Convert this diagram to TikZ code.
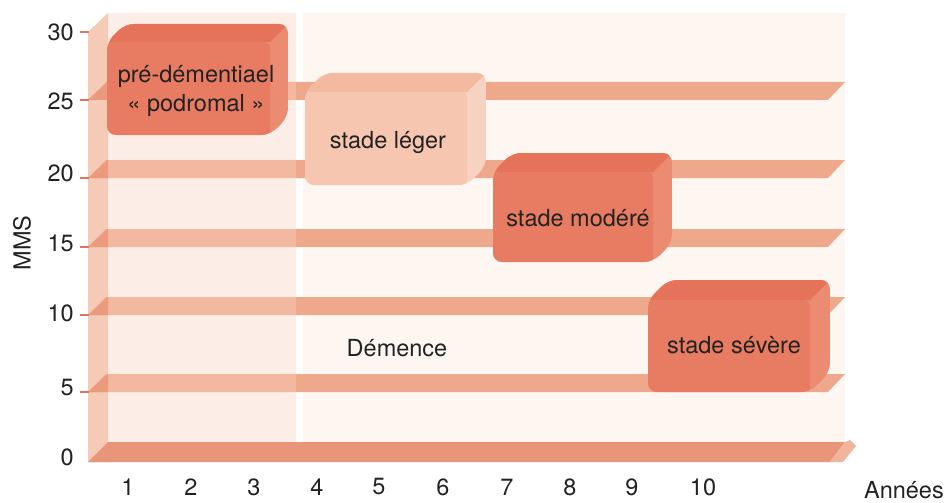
\documentclass[tikz,border=0pt]{standalone}
\usepackage{fontspec}
\setmainfont{TeX Gyre Heros}
\usepackage{tikz}

\definecolor{fondG}{HTML}{FCEEE7}
\definecolor{fondD}{HTML}{FDF6F1}
\definecolor{mur}{HTML}{F5CAB7}
\definecolor{barre}{HTML}{EEA88C}
\definecolor{barreG}{HTML}{F2B8A0}
\definecolor{biseau}{HTML}{EB9A7E}
\definecolor{sol}{HTML}{E9957A}
\definecolor{solBout}{HTML}{F2B49C}
\definecolor{trait}{HTML}{E2735E}
\definecolor{texte}{HTML}{222222}
\definecolor{fonceFace}{HTML}{E87C62}
\definecolor{fonceDessus}{HTML}{E5735A}
\definecolor{fonceCote}{HTML}{EB8B72}
\definecolor{clairFace}{HTML}{F6C6B0}
\definecolor{clairDessus}{HTML}{F3BAA0}
\definecolor{clairCote}{HTML}{F8D2C1}

\begin{document}
\begin{tikzpicture}[x=1pt,y=-1pt,font=\fontsize{23.5}{29}\selectfont,text=texte]
\useasboundingbox (0,0) rectangle (946,503);

% Fond
\fill[fondG] (108,13) rectangle (296,442);
\fill[fondD] (303,13) rectangle (845,442);
% Mur
\fill[mur] (88,462) -- (88,32) -- (108,13) -- (108,462) -- cycle;
% Barres
\foreach \b in {392,315,247,178,100} {
  \fill[barre] (88,\b) -- (106,\b-18) -- (845,\b-18) -- (828,\b) -- cycle;
  \fill[barreG] (108,\b-18) rectangle (296,\b);
  \fill[biseau] (88,\b) -- (108,\b-18) -- (108,\b) -- cycle;
}
% Sol
\fill[sol] (88,462) -- (108,442) -- (845,442) -- (830,462) -- cycle;
\fill[solBout] (830,462) -- (843,462) -- (856,446) -- (850,440) -- (845,442) -- cycle;
% Graduations
\foreach \b in {32,100,178,247,315,392}
  \draw[trait, line width=1.2] (80,\b) -- (89,\b);

% Boites
\foreach \xa/\ya/\xb/\yb/\d/\coul in {107/42/270/135/18/fonce, 305/92/467/185/19/clair,
    493/172/653/262/19/fonce, 648/300/810/392/20/fonce} {
  \begin{scope}
    \clip[rounded corners=9] (\xa,\yb) -- (\xa,\ya) -- (\xa+\d,\ya-\d) -- (\xb+\d,\ya-\d)
      -- (\xb+\d,\yb-\d) -- (\xb,\yb) -- cycle;
    \fill[fill=\coul Cote] (\xa,\ya-\d) rectangle (\xb+\d,\yb);
    \fill[fill=\coul Dessus] (\xa,\ya) -- (\xa+\d,\ya-\d) -- (\xb+\d,\ya-\d) -- (\xb,\ya) -- cycle;
    \fill[fill=\coul Face, rounded corners=6] (\xa-10,\ya) rectangle (\xb,\yb+10);
  \end{scope}
}

\path [every node/.style={inner sep=0pt}]
  node[align=center] (podromal) at (196,91) {pré-démentiael\\« podromal »}
  node (leger) at (388,142) {stade léger}
  node (modere) at (578,218) {stade modéré}
  node (severe) at (734,345) {stade sévère}
  node (demence) at (397,348) {Démence}
  node[rotate=90] (mms) at (22,243) {MMS}
  node[anchor=east] (annees) at (944,490) {Années};

% Axe vertical
\foreach \v/\b in {0/457,5/388,10/313,15/243,20/173,25/101,30/32}
  \node[anchor=east, inner sep=0pt] (y\v) at (74,\b) {\v};
% Axe horizontal
\foreach \n/\x in {1/128,2/191,3/254,4/317,5/379,6/443,7/507,8/570,9/632,10/703}
  \node[inner sep=0pt] (x\n) at (\x,487) {\n};

\end{tikzpicture}
\end{document}
